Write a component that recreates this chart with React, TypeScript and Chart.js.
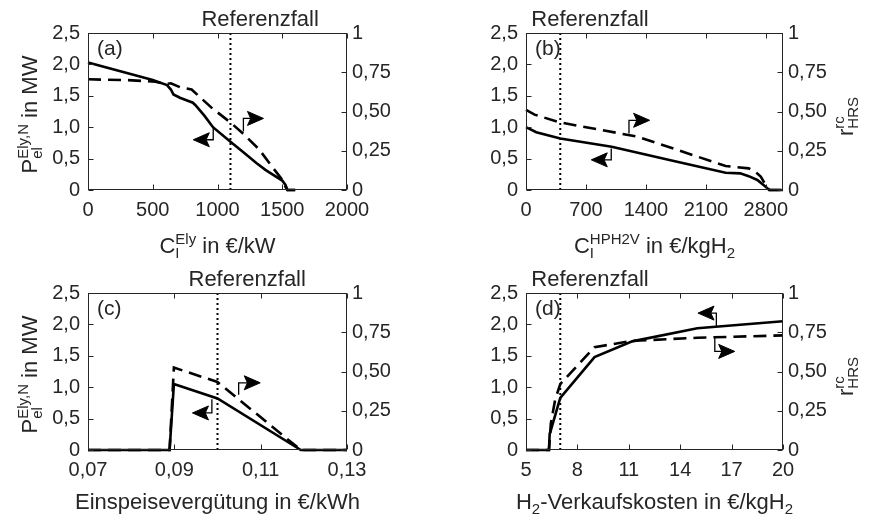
import React, { useEffect, useRef } from 'react';
import { Chart, registerables } from 'chart.js';

Chart.register(...registerables);

const FONT = "'Liberation Sans', Arial, Helvetica, sans-serif";
const TEXT = '#262626';

// ---------- tick values / labels ----------
const Y_LEFT_TICKS = [0, 0.5, 1, 1.5, 2, 2.5];
const Y_LEFT_LABELS = ['0', '0,5', '1,0', '1,5', '2,0', '2,5'];
const Y_RIGHT_TICKS = [0, 0.25, 0.5, 0.75, 1];
const Y_RIGHT_LABELS = ['0', '0,25', '0,50', '0,75', '1'];

const A_X_TICKS = [0, 500, 1000, 1500, 2000];
const A_X_LABELS = ['0', '500', '1000', '1500', '2000'];
const B_X_TICKS = [0, 700, 1400, 2100, 2800];
const B_X_LABELS = ['0', '700', '1400', '2100', '2800'];
const C_X_TICKS = [0.07, 0.09, 0.11, 0.13];
const C_X_LABELS = ['0,07', '0,09', '0,11', '0,13'];
const D_X_TICKS = [5, 8, 11, 14, 17, 20];
const D_X_LABELS = ['5', '8', '11', '14', '17', '20'];

// ---------- reference cases ----------
const A_REF = 1100;
const B_REF = 400;
const C_REF = 0.1;
const D_REF = 7;

// ---------- panel (a) ----------
const A_X_SOLID = [0, 500, 610, 640, 660, 710, 760, 810, 830, 900, 965, 1100, 1200, 1300, 1370, 1430, 1500, 1525, 1540, 1600];
const A_P_SOLID = [2.03, 1.75, 1.67, 1.6, 1.52, 1.47, 1.43, 1.39, 1.35, 1.18, 1.0, 0.77, 0.6, 0.43, 0.32, 0.24, 0.15, 0.08, 0, 0];
const A_X_DASH = [0, 300, 520, 600, 640, 710, 800, 880, 960, 1100, 1190, 1320, 1420, 1500, 1525, 1540, 1600];
const A_R_DASH = [0.705, 0.7, 0.69, 0.675, 0.68, 0.655, 0.64, 0.58, 0.52, 0.43, 0.365, 0.26, 0.15, 0.065, 0.02, 0, 0];

// ---------- panel (b) ----------
const B_X_SOLID = [0, 120, 400, 1000, 1700, 2330, 2500, 2600, 2700, 2780, 2840, 3000];
const B_P_SOLID = [1.0, 0.92, 0.82, 0.69, 0.47, 0.275, 0.265, 0.22, 0.16, 0.07, 0, 0];
const B_X_DASH = [0, 100, 400, 1300, 2330, 2600, 2680, 2740, 2800, 2840, 3000];
const B_R_DASH = [0.51, 0.48, 0.43, 0.34, 0.153, 0.138, 0.115, 0.085, 0.03, 0, 0];

// ---------- panel (c) ----------
const C_X_SOLID = [0.07, 0.0889, 0.0899, 0.1, 0.1193, 0.13];
const C_P_SOLID = [0, 0, 1.05, 0.82, 0, 0];
const C_X_DASH = [0.07, 0.0889, 0.0899, 0.1, 0.1193, 0.13];
const C_R_DASH = [0, 0, 0.525, 0.433, 0, 0];

// ---------- panel (d) ----------
const D_X_SOLID = [5, 6.34, 6.38, 7.0, 9.0, 11.2, 15.0, 20];
const D_P_SOLID = [0, 0, 0.25, 0.83, 1.48, 1.73, 1.94, 2.05];
const D_X_DASH = [5, 6.34, 6.45, 6.7, 7.0, 9.0, 11.2, 15, 20];
const D_R_DASH = [0, 0, 0.17, 0.32, 0.42, 0.655, 0.695, 0.715, 0.73];

// ---------- annotation arrows (data coords on left axis; last point = tip) ----------
const A_ARROWS = [
  [[967, 1.02], [967, 0.8], [813, 0.8]],
  [[1200, 0.93], [1200, 1.14], [1355, 1.14]],
];
const B_ARROWS = [
  [[995, 0.66], [995, 0.48], [762, 0.48]],
  [[1202, 0.9], [1202, 1.11], [1443, 1.11]],
];
const C_ARROWS = [
  [[0.0987, 0.81], [0.0987, 0.59], [0.0942, 0.59]],
  [[0.1049, 0.88], [0.1049, 1.07], [0.1099, 1.07]],
];
const D_ARROWS = [
  [[16.11, 1.96], [16.11, 2.18], [15.04, 2.18]],
  [[16.02, 1.79], [16.02, 1.57], [17.18, 1.57]],
];

type Seg = { t?: string; sub?: string; sup?: string };

const REF_TEXT = 'Referenzfall';
const Y_LEFT_TITLE: Seg[] = [{ t: 'P' }, { sub: 'el', sup: 'Ely,N' }, { t: ' in MW' }];
const Y_RIGHT_TITLE: Seg[] = [{ t: 'r' }, { sub: 'HRS', sup: 'rc' }];
const A_X_TITLE: Seg[] = [{ t: 'C' }, { sub: 'I', sup: 'Ely' }, { t: ' in €/kW' }];
const B_X_TITLE: Seg[] = [{ t: 'C' }, { sub: 'I', sup: 'HPH2V' }, { t: ' in €/kgH' }, { sub: '2' }];
const C_X_TITLE: Seg[] = [{ t: 'Einspeisevergütung in €/kWh' }];
const D_X_TITLE: Seg[] = [{ t: 'H' }, { sub: '2' }, { t: '-Verkaufskosten in €/kgH' }, { sub: '2' }];

const BASE = 22;
const SMALL = 15;

function segWidth(ctx: CanvasRenderingContext2D, s: Seg) {
  if (s.t !== undefined) {
    ctx.font = `${BASE}px ${FONT}`;
    return ctx.measureText(s.t).width;
  }
  ctx.font = `${SMALL}px ${FONT}`;
  const a = s.sub ? ctx.measureText(s.sub).width : 0;
  const b = s.sup ? ctx.measureText(s.sup).width : 0;
  return Math.max(a, b);
}

function drawRich(ctx: CanvasRenderingContext2D, segs: Seg[], x: number, y: number) {
  const widths = segs.map((s) => segWidth(ctx, s));
  const total = widths.reduce((p, c) => p + c, 0);
  let cx = x - total / 2;
  ctx.textAlign = 'left';
  ctx.textBaseline = 'alphabetic';
  ctx.fillStyle = TEXT;
  segs.forEach((s, i) => {
    if (s.t !== undefined) {
      ctx.font = `${BASE}px ${FONT}`;
      ctx.fillText(s.t, cx, y);
    } else {
      ctx.font = `${SMALL}px ${FONT}`;
      if (s.sub) ctx.fillText(s.sub, cx, y + 5);
      if (s.sup) ctx.fillText(s.sup, cx, y - 9);
    }
    cx += widths[i];
  });
}

interface Panel {
  key: string;
  left: number;
  top: number;
  leftW: number;
  rightW: number;
  xMin: number;
  xMax: number;
  xTicks: number[];
  xLabels: string[];
  ref: number;
  sx: number[];
  sy: number[];
  dx: number[];
  dy: number[];
  arrows: number[][][];
  xTitle: Seg[];
  xTitleY: number;
  leftTitle: boolean;
  rightTitle: boolean;
}

const PANELS: Panel[] = [
  { key: '(a)', left: 0, top: 0, leftW: 88, rightW: 92, xMin: 0, xMax: 2000, xTicks: A_X_TICKS, xLabels: A_X_LABELS, ref: A_REF, sx: A_X_SOLID, sy: A_P_SOLID, dx: A_X_DASH, dy: A_R_DASH, arrows: A_ARROWS, xTitle: A_X_TITLE, xTitleY: 253, leftTitle: true, rightTitle: false },
  { key: '(b)', left: 439, top: 0, leftW: 87, rightW: 95, xMin: 0, xMax: 3000, xTicks: B_X_TICKS, xLabels: B_X_LABELS, ref: B_REF, sx: B_X_SOLID, sy: B_P_SOLID, dx: B_X_DASH, dy: B_R_DASH, arrows: B_ARROWS, xTitle: B_X_TITLE, xTitleY: 253, leftTitle: false, rightTitle: true },
  { key: '(c)', left: 0, top: 260, leftW: 88, rightW: 92, xMin: 0.07, xMax: 0.13, xTicks: C_X_TICKS, xLabels: C_X_LABELS, ref: C_REF, sx: C_X_SOLID, sy: C_P_SOLID, dx: C_X_DASH, dy: C_R_DASH, arrows: C_ARROWS, xTitle: C_X_TITLE, xTitleY: 249, leftTitle: true, rightTitle: false },
  { key: '(d)', left: 439, top: 260, leftW: 87, rightW: 95, xMin: 5, xMax: 20, xTicks: D_X_TICKS, xLabels: D_X_LABELS, ref: D_REF, sx: D_X_SOLID, sy: D_P_SOLID, dx: D_X_DASH, dy: D_R_DASH, arrows: D_ARROWS, xTitle: D_X_TITLE, xTitleY: 249, leftTitle: false, rightTitle: true },
];

function decor(p: Panel) {
  return {
    id: 'decor',
    afterDatasetsDraw(chart: any) {
      const { ctx, chartArea: a, scales } = chart;
      const xs = scales.x, ys = scales.y, y1 = scales.y1;
      ctx.save();
      // arrows
      ctx.strokeStyle = '#000';
      ctx.fillStyle = '#000';
      for (const arr of p.arrows) {
        const pts = arr.map(([vx, vy]) => [xs.getPixelForValue(vx), ys.getPixelForValue(vy)]);
        const n = pts.length;
        const [tx, ty] = pts[n - 1];
        const [px, py] = pts[n - 2];
        const ang = Math.atan2(ty - py, tx - px);
        const c = Math.cos(ang), s = Math.sin(ang);
        const L = 16, W = 7;
        ctx.lineWidth = 1.3;
        ctx.beginPath();
        ctx.moveTo(pts[0][0], pts[0][1]);
        for (let i = 1; i < n - 1; i++) ctx.lineTo(pts[i][0], pts[i][1]);
        ctx.lineTo(tx - L * 0.7 * c, ty - L * 0.7 * s);
        ctx.stroke();
        ctx.beginPath();
        ctx.moveTo(tx, ty);
        ctx.lineTo(tx - L * c + W * s, ty - L * s - W * c);
        ctx.lineTo(tx - 0.8 * L * c, ty - 0.8 * L * s);
        ctx.lineTo(tx - L * c - W * s, ty - L * s + W * c);
        ctx.closePath();
        ctx.fill();
        ctx.lineWidth = 1;
        ctx.stroke();
      }
      // box
      ctx.strokeStyle = TEXT;
      ctx.lineWidth = 1;
      const L0 = Math.round(a.left) + 0.5, T0 = Math.round(a.top) + 0.5;
      const R0 = Math.round(a.right) - 0.5, B0 = Math.round(a.bottom) - 0.5;
      ctx.strokeRect(L0, T0, R0 - L0, B0 - T0);
      // inward ticks
      const tl = 5;
      ctx.beginPath();
      for (const t of xs.ticks) {
        const px = Math.round(xs.getPixelForValue(t.value)) + 0.5;
        ctx.moveTo(px, B0);
        ctx.lineTo(px, B0 - tl);
        ctx.moveTo(px, T0);
        ctx.lineTo(px, T0 + tl);
      }
      for (const t of ys.ticks) {
        const py = Math.round(ys.getPixelForValue(t.value)) + 0.5;
        ctx.moveTo(L0, py);
        ctx.lineTo(L0 + tl, py);
      }
      for (const t of y1.ticks) {
        const py = Math.round(y1.getPixelForValue(t.value)) + 0.5;
        ctx.moveTo(R0, py);
        ctx.lineTo(R0 - tl, py);
      }
      ctx.stroke();
      ctx.restore();
    },
    afterDraw(chart: any) {
      const { ctx, chartArea: a, scales } = chart;
      const xs = scales.x;
      ctx.save();
      ctx.fillStyle = TEXT;
      ctx.textAlign = 'left';
      ctx.textBaseline = 'alphabetic';
      ctx.font = `21px ${FONT}`;
      ctx.fillText(p.key, a.left + 9, a.top + 22);
      ctx.font = `22px ${FONT}`;
      const refPx = xs.getPixelForValue(p.ref);
      ctx.fillText(REF_TEXT, refPx - 29, a.top - 7);
      // x title
      drawRich(ctx, p.xTitle, (a.left + a.right) / 2, p.xTitleY);
      const yc = (a.top + a.bottom) / 2 + 3;
      if (p.leftTitle) {
        ctx.save();
        ctx.translate(37, yc);
        ctx.rotate(-Math.PI / 2);
        drawRich(ctx, Y_LEFT_TITLE, 0, 0);
        ctx.restore();
      }
      if (p.rightTitle) {
        ctx.save();
        ctx.translate(414, yc + 2);
        ctx.rotate(-Math.PI / 2);
        drawRich(ctx, Y_RIGHT_TITLE, 0, 0);
        ctx.restore();
      }
      ctx.restore();
    },
  };
}

function toPts(xs: number[], ys: number[]) {
  return xs.map((x, i) => ({ x, y: ys[i] }));
}

function PanelChart({ p }: { p: Panel }) {
  const ref = useRef<HTMLCanvasElement | null>(null);
  useEffect(() => {
    if (!ref.current) return;
    const tickFont = { family: FONT, size: 20 };
    const chart = new Chart(ref.current, {
      type: 'line',
      data: {
        datasets: [
          {
            data: toPts([p.ref, p.ref], [0, 2.5]),
            yAxisID: 'y',
            borderColor: '#000',
            borderWidth: 2,
            borderDash: [2, 3],
            pointRadius: 0,
            fill: false,
          },
          {
            data: toPts(p.dx, p.dy),
            yAxisID: 'y1',
            borderColor: '#000',
            borderWidth: 2.6,
            borderDash: [13, 7],
            pointRadius: 0,
            fill: false,
            tension: 0,
            clip: 4,
          },
          {
            data: toPts(p.sx, p.sy),
            yAxisID: 'y',
            borderColor: '#000',
            borderWidth: 2.6,
            pointRadius: 0,
            fill: false,
            tension: 0,
            clip: 4,
          },
        ],
      },
      options: {
        animation: false,
        responsive: false,
        events: [],
        layout: { padding: { top: 33, left: 0, right: 0, bottom: 0 } },
        plugins: { legend: { display: false }, tooltip: { enabled: false } },
        scales: {
          x: {
            type: 'linear',
            position: 'bottom',
            min: p.xMin,
            max: p.xMax,
            afterBuildTicks: (ax: any) => {
              ax.ticks = p.xTicks.map((v) => ({ value: v }));
            },
            afterFit: (ax: any) => {
              ax.height = 70;
            },
            ticks: {
              autoSkip: false,
              maxRotation: 0,
              padding: 8,
              color: TEXT,
              font: tickFont,
              callback: (_v: any, i: number) => p.xLabels[i],
            },
            grid: { display: false, drawTicks: false },
            border: { display: false },
          },
          y: {
            type: 'linear',
            position: 'left',
            min: 0,
            max: 2.5,
            afterBuildTicks: (ax: any) => {
              ax.ticks = Y_LEFT_TICKS.map((v) => ({ value: v }));
            },
            afterFit: (ax: any) => {
              ax.width = p.leftW;
            },
            ticks: {
              autoSkip: false,
              padding: 8,
              color: TEXT,
              font: tickFont,
              callback: (_v: any, i: number) => Y_LEFT_LABELS[i],
            },
            grid: { display: false, drawTicks: false },
            border: { display: false },
          },
          y1: {
            type: 'linear',
            position: 'right',
            min: 0,
            max: 1,
            afterBuildTicks: (ax: any) => {
              ax.ticks = Y_RIGHT_TICKS.map((v) => ({ value: v }));
            },
            afterFit: (ax: any) => {
              ax.width = p.rightW;
            },
            ticks: {
              autoSkip: false,
              padding: 5,
              color: TEXT,
              font: tickFont,
              callback: (_v: any, i: number) => Y_RIGHT_LABELS[i],
            },
            grid: { display: false, drawTicks: false },
            border: { display: false },
          },
        },
      },
      plugins: [decor(p)],
    } as any);
    return () => chart.destroy();
  }, [p]);
  return (
    <canvas
      ref={ref}
      width={439}
      height={260}
      style={{ position: 'absolute', left: p.left, top: p.top, width: 439, height: 260 }}
    />
  );
}

export default function App() {
  return (
    <div style={{ position: 'fixed', left: 0, top: 0, width: 878, height: 520, background: '#fff', overflow: 'hidden' }}>
      {PANELS.map((p) => (
        <PanelChart key={p.key} p={p} />
      ))}
    </div>
  );
}
